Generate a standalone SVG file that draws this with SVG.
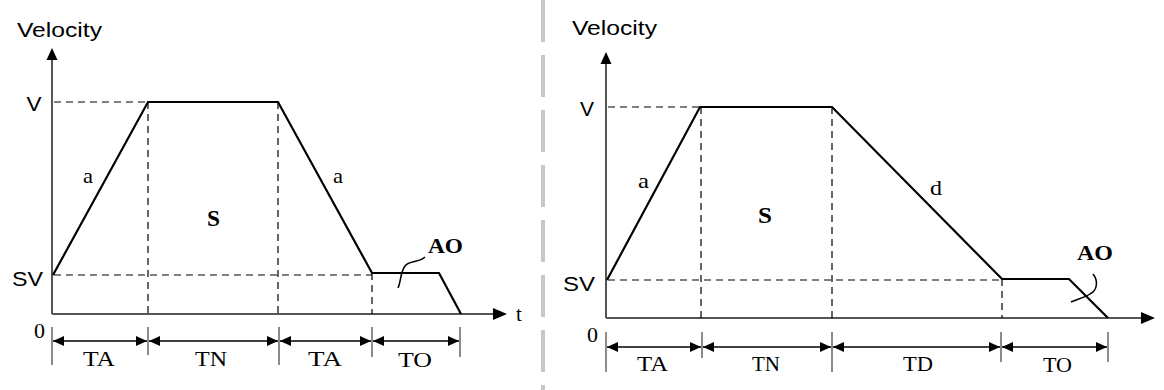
<svg xmlns="http://www.w3.org/2000/svg" width="1164" height="390" viewBox="0 0 1164 390">
<style>
.axis{stroke:#555;stroke-width:2;fill:none}
.prof{stroke:#000;stroke-width:2.2;fill:none;stroke-linejoin:miter}
.dash{stroke:#000;stroke-width:1.2;stroke-dasharray:7,5;fill:none}
.tick{stroke:#666;stroke-width:1.5}
.dim{stroke:#000;stroke-width:1.3;marker-start:url(#ds);marker-end:url(#de)}
.sans{font-family:"Liberation Sans",Arial,sans-serif;font-size:21px;fill:#000}
.serif{font-family:"Liberation Serif","Times New Roman",serif;fill:#000}
.lab{font-size:22px}
.bold{font-weight:bold}
.sq{stroke:#000;stroke-width:1.5;fill:none}
</style>
<defs>
<marker id="de" markerWidth="12" markerHeight="10" refX="11" refY="5" orient="auto" markerUnits="userSpaceOnUse"><path d="M0,0 L11,5 L0,10 Z" fill="#000"/></marker>
<marker id="ds" markerWidth="12" markerHeight="10" refX="0" refY="5" orient="auto" markerUnits="userSpaceOnUse"><path d="M11,0 L0,5 L11,10 Z" fill="#000"/></marker>
</defs>
<line x1="543" y1="0" x2="543" y2="390" stroke="#c8c8c8" stroke-width="4" stroke-dasharray="42,13"/>
<g id="left-chart">
<text class="sans" x="17" y="37" textLength="85" lengthAdjust="spacingAndGlyphs">Velocity</text>
<line class="axis" x1="52" y1="58" x2="52" y2="314"/>
<path d="M52,48 L46.5,60 L57.5,60 Z" fill="#000"/>
<line class="axis" x1="52" y1="314" x2="496" y2="314"/>
<path d="M507,314 L493,308 L493,320 Z" fill="#000"/>
<text class="serif" x="516" y="321" font-size="21">t</text>
<text class="sans" x="34" y="111" text-anchor="middle" textLength="15" lengthAdjust="spacingAndGlyphs">V</text>
<text class="sans" x="12" y="286" textLength="31" lengthAdjust="spacingAndGlyphs">SV</text>
<text class="serif" x="34" y="338" font-size="20" textLength="11" lengthAdjust="spacingAndGlyphs">0</text>
<line class="dash" x1="54" y1="102" x2="148" y2="102"/>
<line class="dash" x1="54" y1="275" x2="372" y2="275"/>
<line class="dash" x1="148" y1="102" x2="148" y2="314"/>
<line class="dash" x1="278" y1="102" x2="278" y2="314"/>
<line class="dash" x1="372" y1="273" x2="372" y2="314"/>
<polyline class="prof" points="53,275 148,102 278,102 372,273 439,273 461,314"/>
<text class="serif" x="83" y="183" font-size="21" textLength="10" lengthAdjust="spacingAndGlyphs">a</text>
<text class="serif" x="333" y="183" font-size="21" textLength="10" lengthAdjust="spacingAndGlyphs">a</text>
<text class="serif bold" x="207" y="226" font-size="23" textLength="13" lengthAdjust="spacingAndGlyphs">S</text>
<text class="serif bold" x="428" y="253" font-size="22" textLength="35" lengthAdjust="spacingAndGlyphs">AO</text>
<path class="sq" d="M425,257 C419,263 409,260 405,266 C400,273 401,282 398,288"/>
<line class="tick" x1="52" y1="327" x2="52" y2="365"/>
<line class="tick" x1="148" y1="327" x2="148" y2="355"/>
<line class="tick" x1="279" y1="327" x2="279" y2="365"/>
<line class="tick" x1="372" y1="327" x2="372" y2="357"/>
<line class="tick" x1="460" y1="327" x2="460" y2="357"/>
<line class="dim" x1="53" y1="341" x2="147" y2="341"/>
<line class="dim" x1="149" y1="341" x2="278" y2="341"/>
<line class="dim" x1="280" y1="341" x2="371" y2="341"/>
<line class="dim" x1="373" y1="341" x2="459" y2="341"/>
<text class="serif lab" x="83" y="366" textLength="32" lengthAdjust="spacingAndGlyphs">TA</text>
<text class="serif lab" x="195" y="366" textLength="32" lengthAdjust="spacingAndGlyphs">TN</text>
<text class="serif lab" x="308" y="366" textLength="34" lengthAdjust="spacingAndGlyphs">TA</text>
<text class="serif lab" x="398" y="367" textLength="34" lengthAdjust="spacingAndGlyphs">TO</text>
</g>
<g id="right-chart">
<text class="sans" x="572" y="35" textLength="85" lengthAdjust="spacingAndGlyphs">Velocity</text>
<line class="axis" x1="606" y1="62" x2="606" y2="318"/>
<path d="M606,52 L600.5,64 L611.5,64 Z" fill="#000"/>
<line class="axis" x1="606" y1="318" x2="1144" y2="318"/>
<path d="M1155,318 L1141,312 L1141,324 Z" fill="#000"/>
<text class="sans" x="580" y="116" textLength="14" lengthAdjust="spacingAndGlyphs">V</text>
<text class="sans" x="563" y="291" textLength="32" lengthAdjust="spacingAndGlyphs">SV</text>
<text class="serif" x="587" y="342" font-size="20" textLength="11" lengthAdjust="spacingAndGlyphs">0</text>
<line class="dash" x1="608" y1="107" x2="700" y2="107"/>
<line class="dash" x1="608" y1="280" x2="1002" y2="280"/>
<line class="dash" x1="701" y1="107" x2="701" y2="318"/>
<line class="dash" x1="832" y1="107" x2="832" y2="318"/>
<line class="dash" x1="1002" y1="279" x2="1002" y2="318"/>
<polyline class="prof" points="607,280 700,107 832,107 1002,279 1069,279 1108,318"/>
<text class="serif" x="638" y="188" font-size="21" textLength="11" lengthAdjust="spacingAndGlyphs">a</text>
<text class="serif" x="930" y="195" font-size="21" textLength="12" lengthAdjust="spacingAndGlyphs">d</text>
<text class="serif bold" x="758" y="223" font-size="23" textLength="14" lengthAdjust="spacingAndGlyphs">S</text>
<text class="serif bold" x="1077" y="260" font-size="22" textLength="36" lengthAdjust="spacingAndGlyphs">AO</text>
<path class="sq" d="M1093,274 C1098,280 1098,290 1090,294 C1084,298 1077,299 1071,302"/>
<line class="tick" x1="606" y1="332" x2="606" y2="372"/>
<line class="tick" x1="702" y1="332" x2="702" y2="358"/>
<line class="tick" x1="832" y1="332" x2="832" y2="372"/>
<line class="tick" x1="1001" y1="332" x2="1001" y2="362"/>
<line class="tick" x1="1108" y1="332" x2="1108" y2="362"/>
<line class="dim" x1="607" y1="347" x2="701" y2="347"/>
<line class="dim" x1="703" y1="347" x2="831" y2="347"/>
<line class="dim" x1="833" y1="347" x2="1000" y2="347"/>
<line class="dim" x1="1002" y1="347" x2="1107" y2="347"/>
<text class="serif lab" x="637" y="371" textLength="31" lengthAdjust="spacingAndGlyphs">TA</text>
<text class="serif lab" x="752" y="371" textLength="28" lengthAdjust="spacingAndGlyphs">TN</text>
<text class="serif lab" x="903" y="371" textLength="30" lengthAdjust="spacingAndGlyphs">TD</text>
<text class="serif lab" x="1043" y="372" textLength="29" lengthAdjust="spacingAndGlyphs">TO</text>
</g>
</svg>
